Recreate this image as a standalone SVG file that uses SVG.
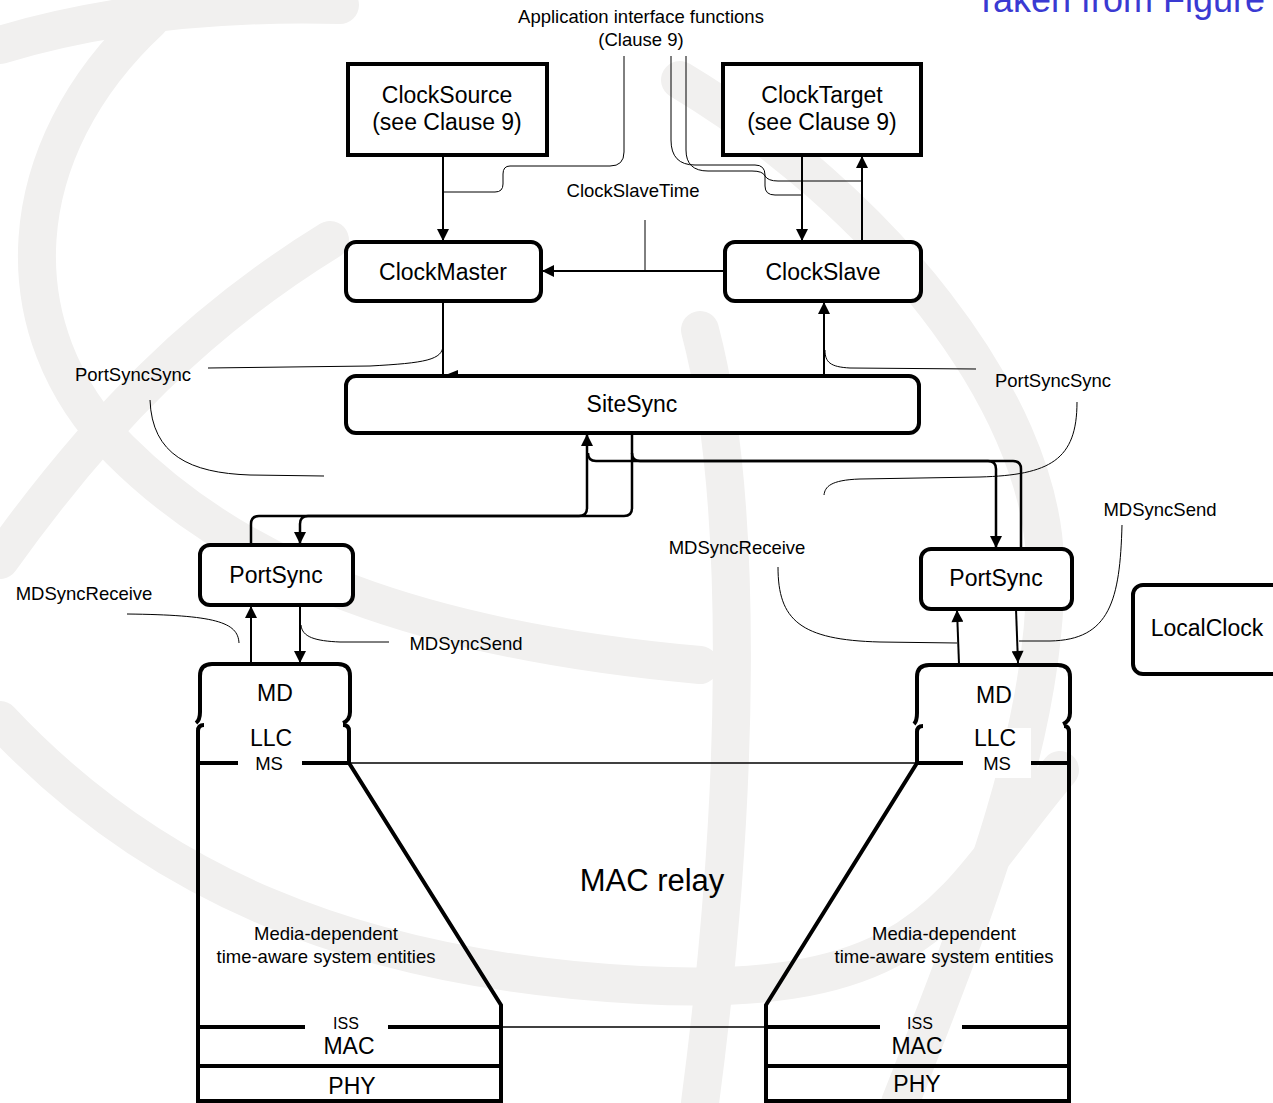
<svg xmlns="http://www.w3.org/2000/svg" width="1273" height="1103" viewBox="0 0 1273 1103">
  <defs>
    <marker id="arr" viewBox="0 0 10 10" refX="10" refY="5" markerUnits="userSpaceOnUse" markerWidth="15" markerHeight="12" orient="auto">
      <path d="M0,0 L10,5 L0,10 z" fill="#000"/>
    </marker>
    <style>
      text { font-family: "Liberation Sans", Arial, sans-serif; fill: #000; text-anchor: middle; }
      .big { font-size: 23px; }
      .lbl { font-size: 18.5px; }
      .sm { font-size: 16px; }
      .box { fill: #fff; stroke: #000; stroke-width: 4; }
      .conn { fill: none; stroke: #000; stroke-width: 2; }
      .bus { fill: none; stroke: #000; stroke-width: 2.5; }
      .lead { fill: none; stroke: #000; stroke-width: 1; }
      .wall { fill: none; stroke: #000; stroke-width: 4; }
      .thin { fill: none; stroke: #000; stroke-width: 1.3; }
      .wm { fill: none; stroke: #f1f0ef; stroke-width: 38; stroke-linecap: round; }
    </style>
  </defs>

  <rect width="1273" height="1103" fill="#fff"/>

  <!-- faint background logo -->
  <g id="background">
    <path class="wm" d="M0,45 Q150,0 340,5"/>
    <path class="wm" d="M150,20 C10,150 0,330 120,450 S420,640 700,665"/>
    <path class="wm" d="M0,720 C150,880 350,970 640,985 S950,900 1060,770"/>
    <path class="wm" d="M680,80 C880,200 1040,400 1045,560 S980,900 900,1103"/>
    <path class="wm" d="M700,330 C745,500 740,800 700,1103"/>
    <path class="wm" d="M0,560 C100,420 200,320 330,240"/>
  </g>

  <!-- caption -->
  <text x="975" y="12" style="font-size:36px; text-anchor:start; fill:#3a3ad2">Taken from Figure</text>

  <!-- connectors -->
  <g id="connectors">
    <!-- clock application interfaces -->
    <path class="conn" d="M443,155 L443,241" marker-end="url(#arr)"/>
    <path class="conn" d="M802,155 L802,241" marker-end="url(#arr)"/>
    <path class="conn" d="M862,242 L862,156" marker-end="url(#arr)"/>
    <path class="conn" d="M725,271 L542,271" marker-end="url(#arr)"/>
    <!-- SiteSync to clocks -->
    <path class="conn" d="M443,301 L443,376"/>
    <path class="wall" d="M470,376 L445,376"/>
    <path d="M443,376 L458,370 L458,382 z" fill="#000"/>
    <path class="conn" d="M824,376 L824,302" marker-end="url(#arr)"/>
    <!-- SiteSync to left PortSync -->
    <path class="bus" d="M251,545 L251,524 Q251,516 259,516 L579,516 Q587,516 587,508 L587,434" marker-end="url(#arr)"/>
    <path class="bus" d="M632,433 L632,508 Q632,516 624,516 L308,516 Q300,516 300,524 L300,544" marker-end="url(#arr)"/>
    <!-- SiteSync to right PortSync -->
    <path class="bus" d="M1021,549 L1021,469 Q1021,461 1013,461 L596,461 Q588,461 588,453"/>
    <path class="bus" d="M632,453 Q632,461 640,461 L988,461 Q996,461 996,469 L996,548" marker-end="url(#arr)"/>
    <!-- PortSync to MD -->
    <path class="conn" d="M251,664 L251,606" marker-end="url(#arr)"/>
    <path class="conn" d="M300,605 L300,663" marker-end="url(#arr)"/>
    <path class="conn" d="M959,664 L957,610" marker-end="url(#arr)"/>
    <path class="conn" d="M1016,609 L1018,663" marker-end="url(#arr)"/>

    <!-- label leaders -->
    <path class="lead" d="M624,56 L624,152 Q624,166 610,166 L510,166 Q503,166 503,174 L503,184 Q503,192 495,192 L443,192"/>
    <path class="lead" d="M671,56 L671,140 Q671,165 695,165 L755,165 Q765,165 765,175 L765,186 Q765,195 775,195 L802,195"/>
    <path class="lead" d="M686,56 L686,150 Q686,171 708,171 L752,171 Q763,171 765,176 Q768,181 778,181 L862,181"/>
    <path class="lead" d="M645,220 L645,271"/>
    <path class="lead" d="M208,368 L370,366 C425,363 443,360 443,345"/>
    <path class="lead" d="M150,400 C152,455 190,473 250,475 L324,476"/>
    <path class="lead" d="M976,369 L850,368 C830,367 825,362 825,350"/>
    <path class="lead" d="M1077,402 C1077,460 1050,475 980,477 L860,479 C830,480 825,487 824,495"/>
    <path class="lead" d="M127,614 C215,615 238,622 239,643"/>
    <path class="lead" d="M301,625 C302,637 315,641 340,642 L389,642"/>
    <path class="lead" d="M778,567 C778,620 800,640 880,642 L957,643"/>
    <path class="lead" d="M1122,525 C1120,600 1110,640 1050,641 L1019,641"/>
  </g>

  <!-- nodes -->
  <g id="clock-source">
    <rect class="box" x="348" y="64" width="199" height="91"/>
    <text class="big" x="447" y="103">ClockSource</text>
    <text class="big" x="447" y="130">(see Clause 9)</text>
  </g>
  <g id="clock-target">
    <rect class="box" x="723" y="64" width="198" height="91"/>
    <text class="big" x="822" y="103">ClockTarget</text>
    <text class="big" x="822" y="130">(see Clause 9)</text>
  </g>
  <g id="clock-master">
    <rect class="box" x="346" y="242" width="195" height="59" rx="10"/>
    <text class="big" x="443" y="280">ClockMaster</text>
  </g>
  <g id="clock-slave">
    <rect class="box" x="725" y="242" width="196" height="59" rx="10"/>
    <text class="big" x="823" y="280">ClockSlave</text>
  </g>
  <g id="site-sync">
    <rect class="box" x="346" y="376" width="573" height="57" rx="10"/>
    <text class="big" x="632" y="412">SiteSync</text>
  </g>
  <g id="port-sync-left">
    <rect class="box" x="200" y="545" width="153" height="60" rx="10"/>
    <text class="big" x="276" y="583">PortSync</text>
  </g>
  <g id="port-sync-right">
    <rect class="box" x="921" y="549" width="151" height="60" rx="10"/>
    <text class="big" x="996" y="586">PortSync</text>
  </g>
  <g id="local-clock">
    <rect class="box" x="1133" y="585" width="150" height="89" rx="10"/>
    <text class="big" x="1207" y="636">LocalClock</text>
  </g>

  <!-- left port stack -->
  <g id="port-stack-left">
    <path class="wall" d="M196,723 Q200,720 200,712 L200,676 Q200,664 212,664 L338,664 Q350,664 350,676 L350,712 Q350,720 343,723"/>
    <path class="wall" d="M204,725 Q198,725 198,731 L198,1103"/>
    <path class="wall" d="M343,725 Q349,725 349,731 L349,763 L501,1005 L501,1103"/>
    <path class="wall" d="M198,763 L238,763 M302,763 L349,763"/>
    <path class="wall" d="M198,1027 L305,1027 M388,1027 L501,1027"/>
    <path class="wall" d="M198,1066 L501,1066"/>
    <path class="wall" d="M198,1101 L501,1101"/>
    <text class="big" x="275" y="701">MD</text>
    <text class="big" x="271" y="746">LLC</text>
    <text class="lbl" x="269" y="770">MS</text>
    <text class="sm" x="346" y="1029">ISS</text>
    <text class="big" x="349" y="1054">MAC</text>
    <text class="big" x="352" y="1094">PHY</text>
    <text class="lbl" x="326" y="940">Media-dependent</text>
    <text class="lbl" x="326" y="963">time-aware system entities</text>
  </g>

  <!-- right port stack -->
  <g id="port-stack-right">
    <rect x="963" y="728" width="68" height="50" fill="#fff"/>
    <path class="wall" d="M914,724 Q917,721 917,713 L917,677 Q917,665 929,665 L1058,665 Q1070,665 1070,677 L1070,713 Q1070,721 1063,724"/>
    <path class="wall" d="M923,726 Q917,726 917,732 L917,763 L766,1005 L766,1103"/>
    <path class="wall" d="M1064,726 Q1069,726 1069,732 L1069,1103"/>
    <path class="wall" d="M917,763 L963,763 M1031,763 L1069,763"/>
    <path class="wall" d="M766,1027 L880,1027 M962,1027 L1069,1027"/>
    <path class="wall" d="M766,1066 L1069,1066"/>
    <path class="wall" d="M766,1101 L1069,1101"/>
    <text class="big" x="994" y="703">MD</text>
    <text class="big" x="995" y="746">LLC</text>
    <text class="lbl" x="997" y="770">MS</text>
    <text class="sm" x="920" y="1029">ISS</text>
    <text class="big" x="917" y="1054">MAC</text>
    <text class="big" x="917" y="1092">PHY</text>
    <text class="lbl" x="944" y="940">Media-dependent</text>
    <text class="lbl" x="944" y="963">time-aware system entities</text>
  </g>

  <!-- MAC relay between the stacks -->
  <g id="mac-relay">
    <path class="thin" d="M349,763 L917,763"/>
    <path class="thin" d="M501,1027 L766,1027"/>
    <text x="652" y="891" style="font-size:31px">MAC relay</text>
  </g>

  <!-- interface labels -->
  <g id="labels">
    <text class="lbl" x="641" y="23">Application interface functions</text>
    <text class="lbl" x="641" y="46">(Clause 9)</text>
    <text class="lbl" x="633" y="197">ClockSlaveTime</text>
    <text class="lbl" x="133" y="381">PortSyncSync</text>
    <text class="lbl" x="1053" y="387">PortSyncSync</text>
    <text class="lbl" x="84" y="600">MDSyncReceive</text>
    <text class="lbl" x="737" y="554">MDSyncReceive</text>
    <text class="lbl" x="466" y="650">MDSyncSend</text>
    <text class="lbl" x="1160" y="516">MDSyncSend</text>
  </g>
</svg>
